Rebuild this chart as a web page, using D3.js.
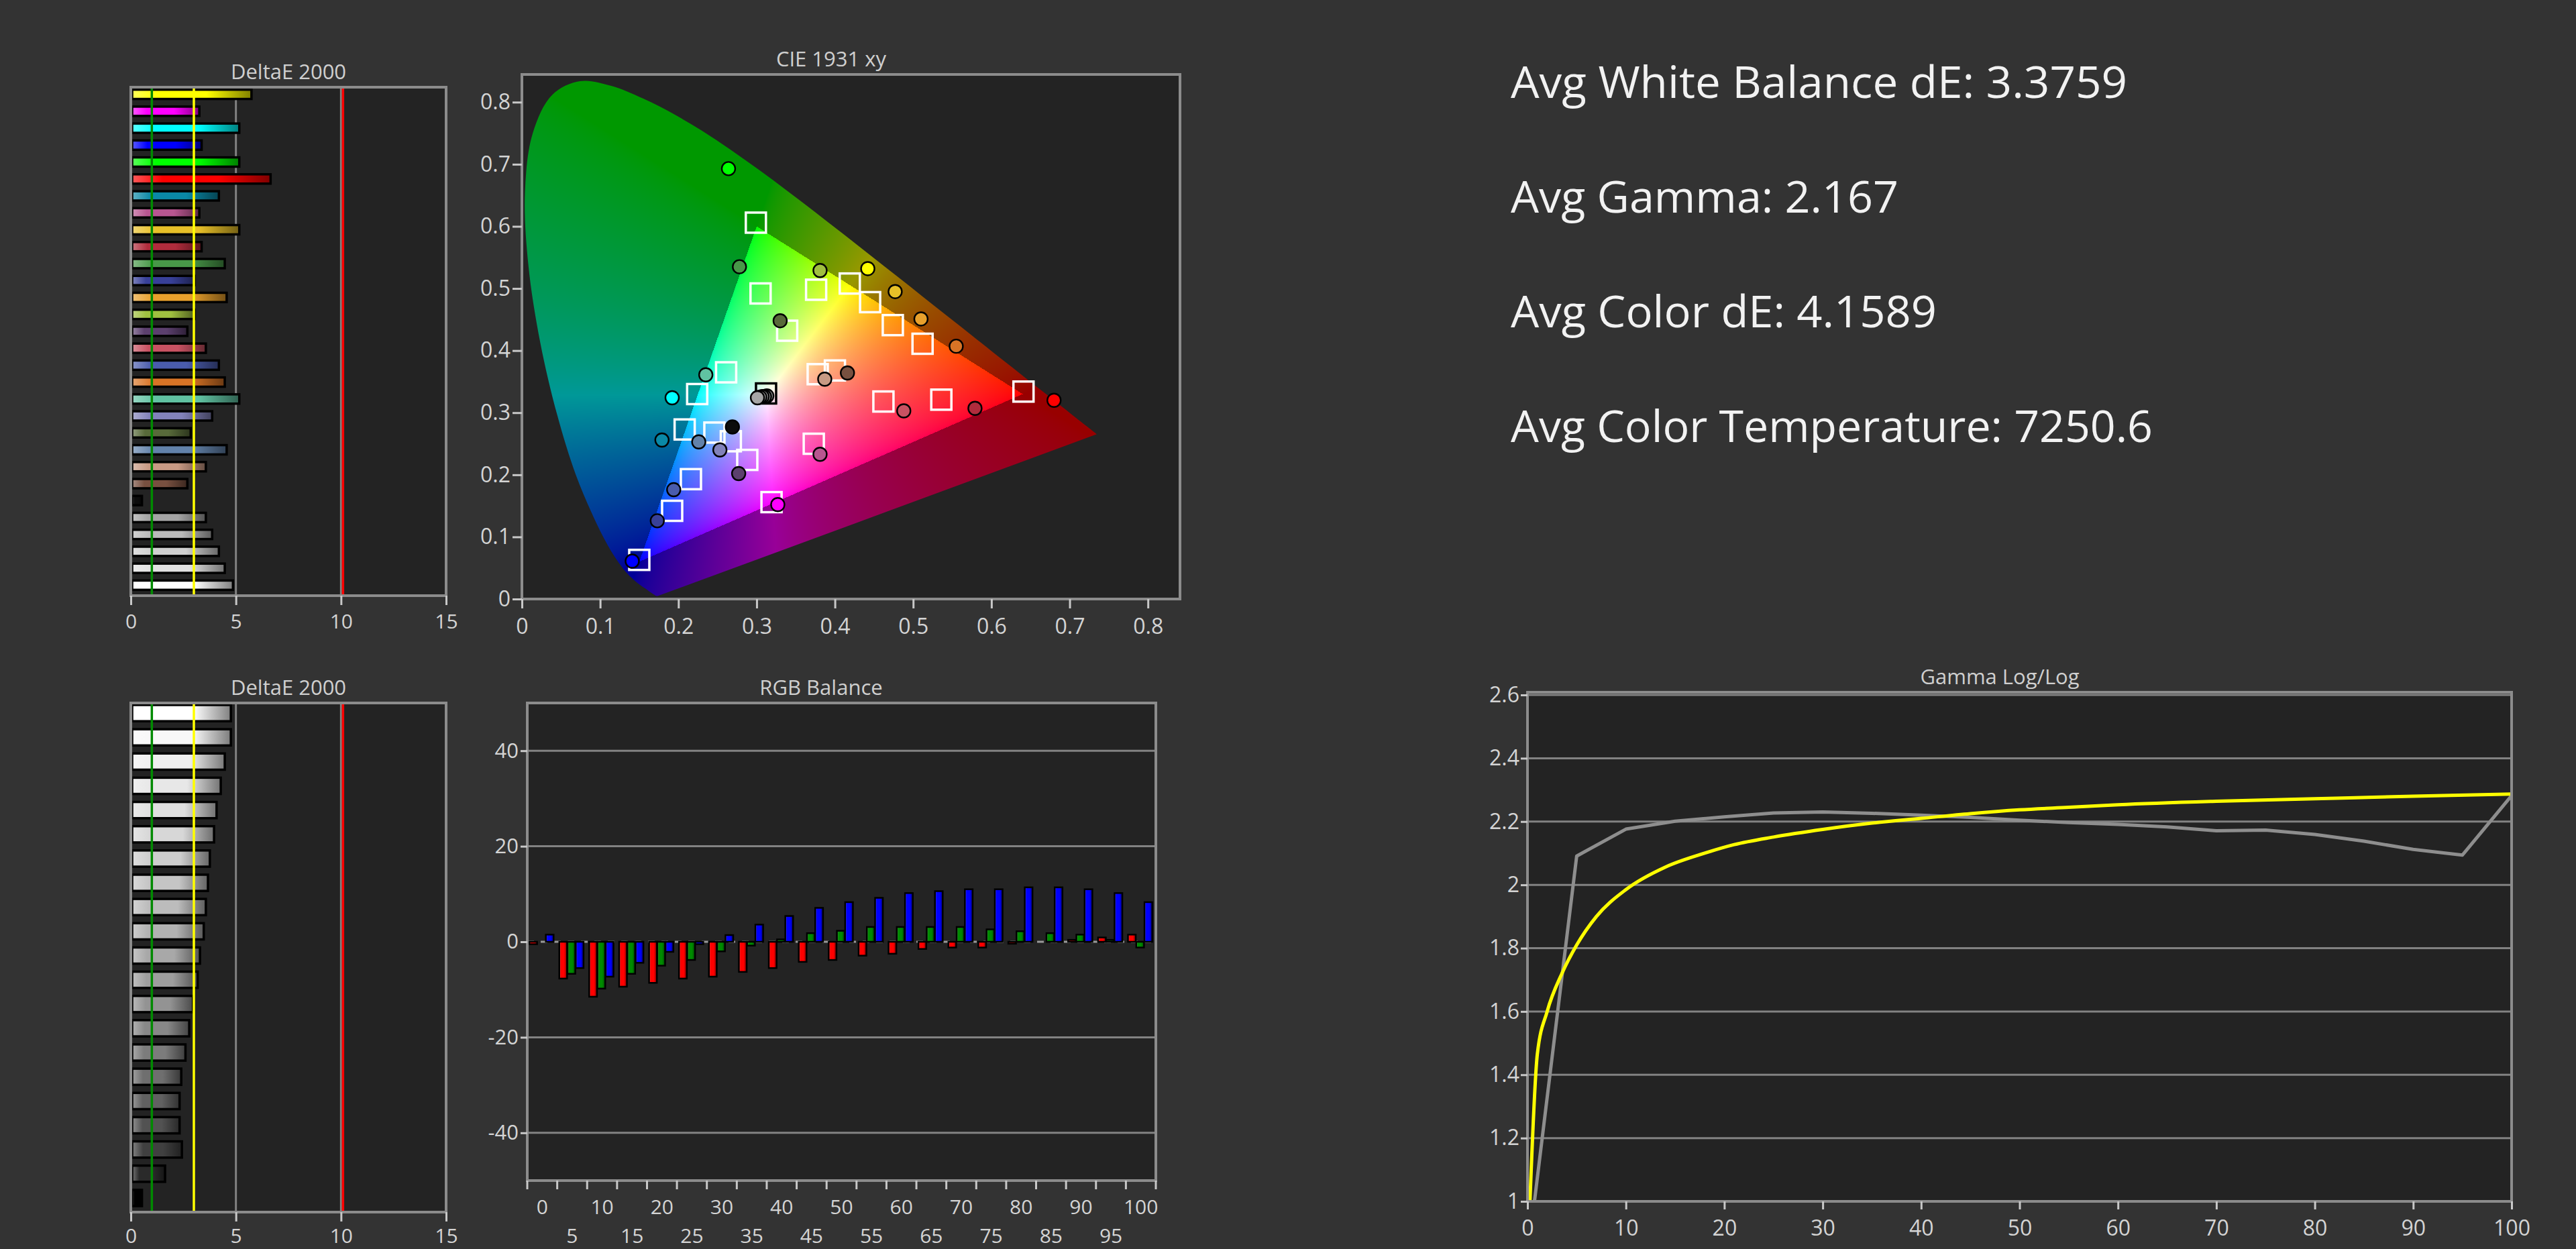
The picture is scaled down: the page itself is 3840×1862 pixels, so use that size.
<!DOCTYPE html>
<html>
<head>
<meta charset="utf-8">
<script src="https://cdn.jsdelivr.net/npm/d3@7"></script>
<style>
  html, body { margin: 0; padding: 0; background: #333333; }
  svg { display: block; }
  text { font-family: "Open Sans", "Noto Sans", sans-serif; }
</style>
</head>
<body>
<svg id="chart" width="3840" height="1862"></svg>
<script>
/*
Display calibration report: color patch dE, CIE xy gamut plot,
grayscale dE, RGB balance and gamma log/log.
*/

// ---------- data ----------

// color patches (top DeltaE chart, top to bottom) and CIE points
var patchNames = ["Yellow", "Magenta", "Cyan", "Blue", "Green", "Red",
  "CC Cyan", "CC Magenta", "CC Yellow", "CC Red", "CC Green", "CC Blue",
  "Orange Yellow", "Yellow Green", "Purple", "Moderate Red", "Purplish Blue", "Orange",
  "Bluish Green", "Blue Flower", "Foliage", "Blue Sky", "Light Skin", "Dark Skin",
  "Black", "Neutral 3.5", "Neutral 5", "Neutral 6.5", "Neutral 8", "White"];
var patchColors = ["#ffff00", "#ff00ff", "#00ffff", "#0000ff", "#00ff00", "#ff0000",
  "#0a88a6", "#b85690", "#e8c028", "#b02c3c", "#489848", "#384098",
  "#e8a02c", "#a0c040", "#5c406e", "#c85262", "#4a5cac", "#d87426",
  "#60c2a2", "#8282ba", "#586a3a", "#6282aa", "#c89a84", "#785040",
  "#0c0c0c", "#a4a4a4", "#bababa", "#d0d0d0", "#e2e2e2", "#ffffff"];
var patchDE = [5.74, 3.26, 5.16, 3.37, 5.16, 6.65,
  4.19, 3.26, 5.16, 3.37, 4.47, 3.04,
  4.56, 3.04, 2.69, 3.57, 4.19, 4.47,
  5.16, 3.87, 2.85, 4.56, 3.57, 2.69,
  0.53, 3.57, 3.87, 4.19, 4.47, 4.86];
var measuredX = [0.442, 0.327, 0.192, 0.141, 0.264, 0.680,
  0.179, 0.381, 0.477, 0.579, 0.278, 0.173,
  0.510, 0.381, 0.277, 0.488, 0.194, 0.555,
  0.235, 0.253, 0.330, 0.226, 0.387, 0.416,
  0.269, 0.301, 0.304, 0.307, 0.310, 0.313];
var measuredY = [0.532, 0.152, 0.324, 0.061, 0.693, 0.320,
  0.256, 0.233, 0.495, 0.307, 0.535, 0.126,
  0.451, 0.529, 0.202, 0.303, 0.176, 0.407,
  0.361, 0.240, 0.448, 0.253, 0.354, 0.364,
  0.277, 0.324, 0.325, 0.326, 0.326, 0.327];
var targetX = [0.419, 0.319, 0.224, 0.150, 0.299, 0.641,
  0.208, 0.373, 0.445, 0.536, 0.305, 0.192,
  0.474, 0.376, 0.288, 0.462, 0.216, 0.512,
  0.261, 0.267, 0.339, 0.246, 0.378, 0.400,
  null, null, null, null, null, 0.312];
var targetY = [0.508, 0.156, 0.330, 0.063, 0.606, 0.334,
  0.273, 0.250, 0.478, 0.321, 0.492, 0.142,
  0.441, 0.498, 0.224, 0.318, 0.193, 0.411,
  0.365, 0.254, 0.432, 0.268, 0.362, 0.368,
  null, null, null, null, null, 0.331];

// grayscale steps (percent stimulus)
var grayLevels = [0, 5, 10, 15, 20, 25, 30, 35, 40, 45, 50, 55, 60, 65, 70, 75, 80, 85, 90, 95, 100];
var grayDE = [0.53, 1.63, 2.43, 2.32, 2.32, 2.40, 2.60, 2.78, 2.96, 3.18, 3.29,
  3.47, 3.57, 3.67, 3.76, 3.96, 4.08, 4.28, 4.47, 4.76, 4.76];
var rgbRed = [-0.5, -7.7, -11.5, -9.4, -8.6, -7.7, -7.3, -6.3, -5.5, -4.2, -3.8,
  -2.9, -2.5, -1.5, -1.2, -1.2, -0.4, 0, 0.4, 0.9, 1.5];
var rgbGreen = [0, -6.7, -9.8, -6.7, -5.0, -3.8, -2.0, -0.8, 0.5, 1.8, 2.3,
  3.1, 3.1, 3.1, 3.1, 2.6, 2.2, 1.8, 1.5, 0.4, -1.2];
var rgbBlue = [1.5, -5.5, -7.3, -4.4, -2.1, -0.5, 1.4, 3.6, 5.4, 7.1, 8.3,
  9.2, 10.2, 10.6, 11.0, 11.0, 11.4, 11.4, 11.0, 10.2, 8.3];

// gamma log/log
var gammaMeasured = [0.82, 2.091, 2.176, 2.201, 2.215, 2.227, 2.230, 2.226, 2.220, 2.213, 2.204,
  2.197, 2.191, 2.183, 2.171, 2.173, 2.159, 2.138, 2.112, 2.094, 2.282];
var gammaTargetX = [0.25, 1, 2, 3.5, 5, 7, 10, 14, 18, 21, 25, 30, 35, 40, 45, 50, 55, 60, 70, 80, 90, 100];
var gammaTarget = [1.0, 1.465, 1.60, 1.72, 1.81, 1.90, 1.985, 2.056, 2.10, 2.127, 2.151, 2.175,
  2.195, 2.21, 2.225, 2.237, 2.245, 2.253, 2.264, 2.272, 2.28, 2.287];

var summaryLines = ["Avg White Balance dE: 3.3759", "Avg Gamma: 2.167",
  "Avg Color dE: 4.1589", "Avg Color Temperature: 7250.6"];

// CIE 1931 2 degree spectral locus, 380..700 nm
var locusX = [0.1741, 0.1740, 0.1738, 0.1736, 0.1733, 0.1730, 0.1726, 0.1721, 0.1714, 0.1703,
  0.1689, 0.1669, 0.1644, 0.1611, 0.1566, 0.1510, 0.1440, 0.1355, 0.1241, 0.1096,
  0.0913, 0.0687, 0.0454, 0.0235, 0.0082, 0.0039, 0.0139, 0.0389, 0.0743, 0.1142,
  0.1547, 0.1929, 0.2296, 0.2658, 0.3016, 0.3373, 0.3731, 0.4087, 0.4441, 0.4788,
  0.5125, 0.5448, 0.5752, 0.6029, 0.6270, 0.6482, 0.6658, 0.6801, 0.6915, 0.7006,
  0.7079, 0.7140, 0.7190, 0.7230, 0.7260, 0.7283, 0.7300, 0.7311, 0.7320, 0.7334,
  0.7344, 0.7347];
var locusY = [0.0050, 0.0050, 0.0049, 0.0049, 0.0048, 0.0048, 0.0048, 0.0048, 0.0051, 0.0058,
  0.0069, 0.0086, 0.0109, 0.0138, 0.0177, 0.0227, 0.0297, 0.0399, 0.0578, 0.0868,
  0.1327, 0.2007, 0.2950, 0.4127, 0.5384, 0.6548, 0.7502, 0.8120, 0.8338, 0.8262,
  0.8059, 0.7816, 0.7543, 0.7243, 0.6923, 0.6589, 0.6245, 0.5896, 0.5547, 0.5202,
  0.4866, 0.4544, 0.4242, 0.3965, 0.3725, 0.3514, 0.3340, 0.3197, 0.3083, 0.2993,
  0.2920, 0.2859, 0.2809, 0.2770, 0.2740, 0.2717, 0.2700, 0.2689, 0.2680, 0.2666,
  0.2656, 0.2653];

// ---------- look ----------
var plotBg = "#232323",
    frameColor = "#8c8c8c",
    gridColor = "#828282",
    labelColor = "#d4d4d4",
    tickColor = "#c8c8c8";

var svg = d3.select("#chart");
var defs = svg.append("defs");

// horizontal gradient: light left, pure colour, dark right
function addGradient(id, color) {
  var grad = defs.append("linearGradient").attr("id", id)
      .attr("x1", "0%").attr("x2", "100%").attr("y1", "0%").attr("y2", "0%");
  grad.append("stop").attr("offset", "0%").attr("stop-color", d3.interpolateRgb(color, "#fff")(0.35));
  grad.append("stop").attr("offset", "22%").attr("stop-color", color);
  grad.append("stop").attr("offset", "62%").attr("stop-color", color);
  grad.append("stop").attr("offset", "100%").attr("stop-color", d3.interpolateRgb(color, "#000")(0.5));
}

function styleAxis(g, size) {
  g.select(".domain").remove();
  g.selectAll(".tick line").attr("stroke", tickColor).attr("stroke-width", 3);
  g.selectAll(".tick text").attr("fill", labelColor).attr("font-size", size)
    .attr("font-family", "'Open Sans', 'Noto Sans', sans-serif");
}

function title(x, y, txt) {
  svg.append("text").attr("x", x).attr("y", y).attr("text-anchor", "middle")
    .attr("fill", "#cfcfcf").attr("font-size", 31).text(txt);
}

// ---------- DeltaE bar charts ----------
function deltaEChart(box, names, values, fills, prefix) {
  var x = d3.scaleLinear().domain([0, 15]).range([box.x0, box.x1]);
  var y = d3.scaleBand().domain(names).range([box.b0, box.b1])
      .paddingInner(box.pad).paddingOuter(box.pad / 2);
  var g = svg.append("g");

  g.append("rect").attr("x", box.x0).attr("y", box.y0)
    .attr("width", box.x1 - box.x0).attr("height", box.y1 - box.y0).attr("fill", plotBg);

  g.selectAll("line.grid").data([5, 10]).enter().append("line")
    .attr("x1", x).attr("x2", x).attr("y1", box.y0).attr("y2", box.y1)
    .attr("stroke", gridColor).attr("stroke-width", 3);

  fills.forEach(function(c, i) { addGradient(prefix + i, c); });

  g.selectAll("rect.bar").data(values).enter().append("rect")
    .attr("class", "bar")
    .attr("x", x(0) + 2)
    .attr("y", function(d, i) { return y(names[i]); })
    .attr("width", function(d) { return Math.max(0, x(d) - x(0) - 2); })
    .attr("height", y.bandwidth())
    .attr("fill", function(d, i) { return "url(#" + prefix + i + ")"; })
    .attr("stroke", "#000").attr("stroke-width", 3.5);

  // limits: 1 (green), 3 (yellow), 10 (red)
  g.selectAll("line.limit").data([[1, "#008a00"], [3, "#ffff00"], [10, "#ff0000"]]).enter().append("line")
    .attr("x1", function(d) { return x(d[0]) + (d[0] === 10 ? 3 : 0); })
    .attr("x2", function(d) { return x(d[0]) + (d[0] === 10 ? 3 : 0); })
    .attr("y1", box.y0).attr("y2", box.y1)
    .attr("stroke", function(d) { return d[1]; }).attr("stroke-width", 3.5);

  g.append("rect").attr("x", box.x0).attr("y", box.y0)
    .attr("width", box.x1 - box.x0).attr("height", box.y1 - box.y0)
    .attr("fill", "none").attr("stroke", frameColor).attr("stroke-width", 4);

  g.append("g").attr("transform", "translate(0," + box.y1 + ")")
    .call(d3.axisBottom(x).tickValues([0, 5, 10, 15]).tickSize(14).tickPadding(box.lp))
    .call(styleAxis, 30);
}

deltaEChart({x0: 195, x1: 665, y0: 130, y1: 888, b0: 128, b1: 885, pad: 0.45, lp: 14},
  patchNames, patchDE, patchColors, "deTop");
title(430, 118, "DeltaE 2000");

var grayShade = d3.scalePow().exponent(0.6).domain([0, 100]).range([0, 255]);
var grayNamesDesc = grayLevels.slice().reverse().map(String);
deltaEChart({x0: 195, x1: 665, y0: 1048, y1: 1807, b0: 1045, b1: 1804, pad: 0.33, lp: 11},
  grayNamesDesc, grayDE.slice().reverse(),
  grayLevels.slice().reverse().map(function(p) { var v = Math.round(grayShade(p)); return d3.rgb(v, v, v).formatHex(); }),
  "deGray");
title(430, 1036, "DeltaE 2000");

// ---------- CIE 1931 xy ----------
var cie = {x0: 778, x1: 1759, y0: 111, y1: 893};
var cx = d3.scaleLinear().domain([0, 0.841]).range([cie.x0, cie.x1]);
var cy = d3.scaleLinear().domain([0, 0.8446]).range([cie.y1, cie.y0]);

svg.append("rect").attr("x", cie.x0).attr("y", cie.y0)
  .attr("width", cie.x1 - cie.x0).attr("height", cie.y1 - cie.y0).attr("fill", plotBg);

// chromaticity colours painted on a canvas, clipped to the locus
var cw = cie.x1 - cie.x0, ch = cie.y1 - cie.y0;
var canvas = document.createElement("canvas");
canvas.width = cw; canvas.height = ch;
var ctx = canvas.getContext("2d");
var img = ctx.createImageData(cw, ch);
var expo = 1 / 1.45;
for (var j = 0; j < ch; j++) {
  var yy = Math.max(cy.invert(cie.y0 + j + 0.5), 0.002);
  for (var i = 0; i < cw; i++) {
    var xx = cx.invert(cie.x0 + i + 0.5);
    var X = xx / yy, Z = (1 - xx - yy) / yy;
    var r = 3.2406 * X - 1.5372 - 0.4986 * Z,
        gg = -0.9689 * X + 1.8758 + 0.0415 * Z,
        b = 0.0557 * X - 0.2040 + 1.0570 * Z;
    var inGamut = r >= 0 && gg >= 0 && b >= 0;
    r = Math.max(r, 0); gg = Math.max(gg, 0); b = Math.max(b, 0);
    var m = Math.max(r, gg, b) || 1;
    var k = inGamut ? 255 : 152;
    var p = (j * cw + i) * 4;
    img.data[p] = k * Math.pow(r / m, expo);
    img.data[p + 1] = k * Math.pow(gg / m, expo);
    img.data[p + 2] = k * Math.pow(b / m, expo);
    img.data[p + 3] = 255;
  }
}
ctx.putImageData(img, 0, 0);

// smooth spectral curve, straight purple line to close it
var locusPath = d3.line().curve(d3.curveCatmullRom.alpha(0.5))
  .x(function(d, i) { return cx(locusX[i]); })
  .y(function(d, i) { return cy(locusY[i]); })(locusX) + "Z";
defs.append("clipPath").attr("id", "locusClip").append("path").attr("d", locusPath);
svg.append("image").attr("x", cie.x0).attr("y", cie.y0).attr("width", cw).attr("height", ch)
  .attr("preserveAspectRatio", "none")
  .attr("href", canvas.toDataURL("image/png"))
  .attr("clip-path", "url(#locusClip)");

// targets (squares)
var sq = 30;
svg.append("g").selectAll("rect").data(patchNames.map(function(n, i) { return i; })
    .filter(function(i) { return targetX[i] !== null; }))
  .enter().append("rect")
  .attr("x", function(i) { return cx(targetX[i]) - sq / 2; })
  .attr("y", function(i) { return cy(targetY[i]) - sq / 2; })
  .attr("width", sq).attr("height", sq).attr("fill", "none")
  .attr("stroke", function(i) { return patchNames[i] === "White" ? "#000" : "#fff"; })
  .attr("stroke-width", 3.5);

// measured (circles); grays drawn white-first so the darkest sits on top
var order = patchNames.map(function(n, i) { return i; }).reverse();
svg.append("g").selectAll("circle").data(order).enter().append("circle")
  .attr("cx", function(i) { return cx(measuredX[i]); })
  .attr("cy", function(i) { return cy(measuredY[i]); })
  .attr("r", 10)
  .attr("fill", function(i) { return i >= 25 ? d3.interpolateRgb(patchColors[25], "#aaa")(0.3) : patchColors[i]; })
  .attr("stroke", "#000").attr("stroke-width", 2.4);

svg.append("rect").attr("x", cie.x0).attr("y", cie.y0)
  .attr("width", cw).attr("height", ch)
  .attr("fill", "none").attr("stroke", frameColor).attr("stroke-width", 4);

var cieFmt = d3.format("~g");
svg.append("g").attr("transform", "translate(0," + cie.y1 + ")")
  .call(d3.axisBottom(cx).tickValues(d3.range(0, 9).map(function(d) { return d / 10; }))
    .tickFormat(cieFmt).tickSize(14).tickPadding(15))
  .call(styleAxis, 32);
svg.append("g").attr("transform", "translate(" + cie.x0 + ",0)")
  .call(d3.axisLeft(cy).tickValues(d3.range(0, 9).map(function(d) { return d / 10; }))
    .tickFormat(cieFmt).tickSize(14).tickPadding(3))
  .call(styleAxis, 32);
title(1239, 99, "CIE 1931 xy");

// ---------- RGB Balance ----------
var rgb = {x0: 786, x1: 1723, y0: 1048, y1: 1760};
var rx = d3.scaleBand().domain(grayLevels).range([rgb.x0, rgb.x1]);
var rsub = d3.scaleBand().domain(["R", "G", "B"])
  .range([rx.bandwidth() * 0.07, rx.bandwidth() * 0.88]).paddingInner(0.06);
var ry = d3.scaleLinear().domain([-50, 50]).range([rgb.y1, rgb.y0]);

svg.append("rect").attr("x", rgb.x0).attr("y", rgb.y0)
  .attr("width", rgb.x1 - rgb.x0).attr("height", rgb.y1 - rgb.y0).attr("fill", plotBg);
svg.append("g").selectAll("line").data([-40, -20, 20, 40]).enter().append("line")
  .attr("x1", rgb.x0).attr("x2", rgb.x1).attr("y1", ry).attr("y2", ry)
  .attr("stroke", gridColor).attr("stroke-width", 3);
svg.append("line").attr("x1", rgb.x0).attr("x2", rgb.x1).attr("y1", ry(0)).attr("y2", ry(0))
  .attr("stroke", "#9a9a9a").attr("stroke-width", 3).attr("stroke-dasharray", "10,10");

var channels = [["R", rgbRed, "#ff0000"], ["G", rgbGreen, "#008a00"], ["B", rgbBlue, "#0000ff"]];
channels.forEach(function(ch) {
  addGradient("rgb" + ch[0], ch[2]);
  svg.append("g").selectAll("rect").data(ch[1]).enter().append("rect")
    .attr("x", function(d, i) { return rx(grayLevels[i]) + rsub(ch[0]); })
    .attr("width", rsub.bandwidth())
    .attr("y", function(d) { return ry(Math.max(0, d)); })
    .attr("height", function(d) { return Math.abs(ry(d) - ry(0)); })
    .attr("fill", "url(#rgb" + ch[0] + ")")
    .attr("stroke", "#000").attr("stroke-width", 2.5);
});

svg.append("rect").attr("x", rgb.x0).attr("y", rgb.y0)
  .attr("width", rgb.x1 - rgb.x0).attr("height", rgb.y1 - rgb.y0)
  .attr("fill", "none").attr("stroke", frameColor).attr("stroke-width", 4);

svg.append("g").attr("transform", "translate(" + rgb.x0 + ",0)")
  .call(d3.axisLeft(ry).tickValues([-40, -20, 0, 20, 40])
    .tickFormat(function(d) { return String(d); }).tickSize(10).tickPadding(3))
  .call(styleAxis, 31);

// band boundary ticks and staggered labels
svg.append("g").selectAll("line")
  .data(grayLevels.map(function(l) { return rx(l); }).concat([rgb.x1]))
  .enter().append("line")
  .attr("x1", function(d) { return d; }).attr("x2", function(d) { return d; })
  .attr("y1", rgb.y1).attr("y2", rgb.y1 + 13)
  .attr("stroke", tickColor).attr("stroke-width", 3);
svg.append("g").selectAll("text").data(grayLevels).enter().append("text")
  .attr("x", function(d) { return rx(d) + rx.bandwidth() / 2; })
  .attr("y", function(d, i) { return rgb.y1 + (i % 2 === 0 ? 50 : 93); })
  .attr("text-anchor", "middle").attr("fill", labelColor).attr("font-size", 30)
  .text(function(d) { return d; });
title(1224, 1036, "RGB Balance");

// ---------- Gamma Log/Log ----------
var gam = {x0: 2277, x1: 3744, y0: 1032, y1: 1791};
var gx = d3.scaleLinear().domain([0, 100]).range([gam.x0, gam.x1]);
var gy = d3.scaleLinear().domain([1, 2.6]).range([gam.y1, 1036]);

svg.append("rect").attr("x", gam.x0).attr("y", gam.y0)
  .attr("width", gam.x1 - gam.x0).attr("height", gam.y1 - gam.y0).attr("fill", plotBg);
svg.append("g").selectAll("line").data([1.2, 1.4, 1.6, 1.8, 2.0, 2.2, 2.4, 2.6]).enter().append("line")
  .attr("x1", gam.x0).attr("x2", gam.x1).attr("y1", gy).attr("y2", gy)
  .attr("stroke", gridColor).attr("stroke-width", 3);

defs.append("clipPath").attr("id", "gammaClip").append("rect")
  .attr("x", gam.x0).attr("y", gam.y0).attr("width", gam.x1 - gam.x0).attr("height", gam.y1 - gam.y0);

svg.append("path").datum(gammaMeasured)
  .attr("clip-path", "url(#gammaClip)")
  .attr("fill", "none").attr("stroke", "#8e8e8e").attr("stroke-width", 5)
  .attr("stroke-linejoin", "round")
  .attr("d", d3.line().x(function(d, i) { return gx(grayLevels[i]); }).y(function(d) { return gy(d); }));

svg.append("path").datum(gammaTarget)
  .attr("clip-path", "url(#gammaClip)")
  .attr("fill", "none").attr("stroke", "#ffff00").attr("stroke-width", 5)
  .attr("d", d3.line().curve(d3.curveMonotoneX)
    .x(function(d, i) { return gx(gammaTargetX[i]); }).y(function(d) { return gy(d); }));

svg.append("rect").attr("x", gam.x0).attr("y", gam.y0)
  .attr("width", gam.x1 - gam.x0).attr("height", gam.y1 - gam.y0)
  .attr("fill", "none").attr("stroke", frameColor).attr("stroke-width", 4);

svg.append("g").attr("transform", "translate(0," + gam.y1 + ")")
  .call(d3.axisBottom(gx).tickValues(d3.range(0, 101, 10)).tickSize(12).tickPadding(16))
  .call(styleAxis, 32);
svg.append("g").attr("transform", "translate(" + gam.x0 + ",0)")
  .call(d3.axisLeft(gy).tickValues([1, 1.2, 1.4, 1.6, 1.8, 2, 2.2, 2.4, 2.6])
    .tickFormat(d3.format("~g")).tickSize(10).tickPadding(2))
  .call(styleAxis, 32);
title(2981, 1020, "Gamma Log/Log");

// ---------- summary numbers ----------
var summaryWidth = [919, 578, 635, 957];
svg.append("g").selectAll("text").data(summaryLines).enter().append("text")
  .attr("x", 2252)
  .attr("y", function(d, i) { return 146 + i * 171; })
  .attr("fill", "#f2f2f2").attr("font-size", 66)
  .attr("textLength", function(d, i) { return summaryWidth[i]; })
  .attr("lengthAdjust", "spacingAndGlyphs")
  .text(function(d) { return d; });
</script>
</body>
</html>
